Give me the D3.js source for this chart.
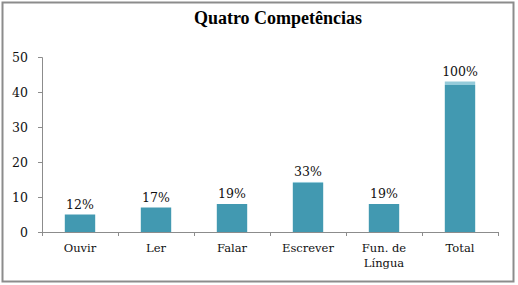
<!DOCTYPE html>
<html>
<head>
<meta charset="utf-8">
<script src="https://cdn.jsdelivr.net/npm/d3@7"></script>
<style>
  body { margin: 0; background: #fff; }
  svg { display: block; }
</style>
</head>
<body>
<script>
// chart data
const categories = ['Ouvir', 'Ler', 'Falar', 'Escrever', 'Fun. de Língua', 'Total'];
const values = [5, 7, 8, 14, 8, 42];
const capValues = [0, 0, 0, 0.3, 0, 1];   // lighter top band on some bars
const percentLabels = ['12%', '17%', '19%', '33%', '19%', '100%'];
const yTicks = [0, 10, 20, 30, 40, 50];

const width = 518;
const height = 285;
const margin = { top: 57, right: 20, bottom: 53, left: 42 };
const plotW = 498 - margin.left;
const plotH = 232 - margin.top;

const svg = d3.select('body')
  .append('svg')
  .attr('width', width)
  .attr('height', height);

// outer border
svg.append('rect')
  .attr('x', 2.5)
  .attr('y', 2.5)
  .attr('width', 511)
  .attr('height', 279)
  .attr('fill', 'none')
  .attr('stroke', '#8c8c8c')
  .attr('stroke-width', 2);

svg.append('text')
  .attr('x', 278)
  .attr('y', 24)
  .attr('text-anchor', 'middle')
  .style('font-family', '"Liberation Serif", serif')
  .style('font-weight', 'bold')
  .style('font-size', '18px')
  .text('Quatro Competências');

const g = svg.append('g')
  .attr('transform', `translate(${margin.left},${margin.top})`);

const xScale = d3.scaleBand()
  .domain(categories)
  .range([0, plotW])
  .paddingInner(0.6)
  .paddingOuter(0.3);

const yScale = d3.scaleLinear()
  .domain([0, 50])
  .range([plotH, 0]);

// y axis
const yAxis = d3.axisLeft(yScale)
  .tickValues(yTicks)
  .tickSize(4)
  .tickPadding(10);

const yG = g.append('g').call(yAxis);
yG.select('.domain').attr('stroke', '#8c8c8c').attr('d', `M-4,0.5H0.5V${plotH}`);
yG.selectAll('.tick line').attr('stroke', '#8c8c8c');
yG.selectAll('.tick text')
  .style('font-family', '"DejaVu Serif", serif')
  .style('font-size', '12.5px')
  .attr('fill', '#111');

// x axis with ticks at category boundaries
const xG = g.append('g').attr('transform', `translate(0,${plotH})`);
xG.append('line')
  .attr('x1', 0).attr('x2', plotW)
  .attr('y1', 0.5).attr('y2', 0.5)
  .attr('stroke', '#8c8c8c');
const step = plotW / categories.length;
xG.selectAll('line.tk')
  .data(d3.range(categories.length + 1))
  .enter()
  .append('line')
  .attr('class', 'tk')
  .attr('x1', i => Math.round(i * step) + 0.5)
  .attr('x2', i => Math.round(i * step) + 0.5)
  .attr('y1', 0)
  .attr('y2', 4)
  .attr('stroke', '#8c8c8c');

const catText = xG.selectAll('text.cat')
  .data(categories)
  .enter()
  .append('text')
  .attr('class', 'cat')
  .attr('x', d => xScale(d) + xScale.bandwidth() / 2)
  .attr('y', 20)
  .attr('text-anchor', 'middle')
  .style('font-family', '"DejaVu Serif", serif')
  .style('font-size', '11.5px')
  .attr('fill', '#111');
catText.each(function (d) {
  const parts = d === 'Fun. de Língua' ? ['Fun. de', 'Língua'] : [d];
  parts.forEach((p, i) => {
    d3.select(this).append('tspan')
      .attr('x', xScale(d) + xScale.bandwidth() / 2)
      .attr('dy', i === 0 ? 0 : 15)
      .text(p);
  });
});

// bars
g.selectAll('rect.bar')
  .data(values)
  .enter()
  .append('rect')
  .attr('class', 'bar')
  .attr('x', (d, i) => xScale(categories[i]))
  .attr('y', d => yScale(d))
  .attr('width', xScale.bandwidth())
  .attr('height', d => plotH - yScale(d))
  .attr('fill', '#4299b1');

g.selectAll('rect.cap')
  .data(capValues)
  .enter()
  .append('rect')
  .attr('class', 'cap')
  .attr('x', (d, i) => xScale(categories[i]))
  .attr('y', (d, i) => yScale(values[i] + d))
  .attr('width', xScale.bandwidth())
  .attr('height', (d, i) => yScale(values[i]) - yScale(values[i] + d))
  .attr('fill', '#95cbda');

// percent labels
g.selectAll('text.lbl')
  .data(percentLabels)
  .enter()
  .append('text')
  .attr('class', 'lbl')
  .attr('x', (d, i) => xScale(categories[i]) + xScale.bandwidth() / 2)
  .attr('y', (d, i) => yScale(values[i] + capValues[i]) - 6)
  .attr('text-anchor', 'middle')
  .style('font-family', '"DejaVu Serif", serif')
  .style('font-size', '12.5px')
  .attr('fill', '#111')
  .text(d => d);
</script>
</body>
</html>
